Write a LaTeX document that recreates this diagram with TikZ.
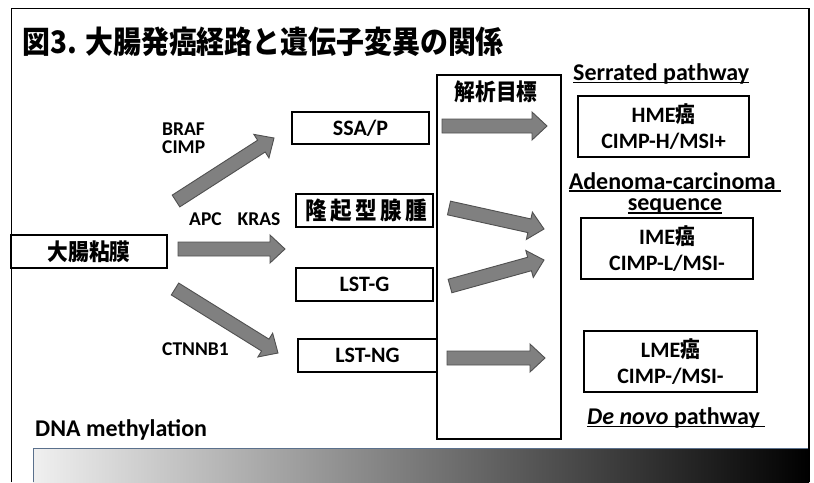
\documentclass[tikz,border=0pt]{standalone}
\usepackage{fontspec}
\setmainfont{Carlito}
\newfontfamily\jp{Noto Sans CJK JP}[FakeStretch=0.9]
\usetikzlibrary{calc}
\definecolor{arrfill}{RGB}{128,128,128}
\definecolor{arrline}{RGB}{80,80,80}
\definecolor{barline}{RGB}{90,112,140}
\newcommand\myul[2][2.6pt]{\setbox0\hbox{#2}\rlap{\rule[-#1]{\wd0}{1.2pt}}\box0}
\begin{document}
\begin{tikzpicture}[x=1pt,y=-1pt,
  box/.style={draw=black, line width=1.1pt, inner sep=0pt, align=center},
  lbl/.style={font=\fontsize{19.5}{18}\selectfont\bfseries, inner sep=0pt, align=left},
  hd/.style={font=\fontsize{24}{26}\selectfont\bfseries, inner sep=0pt},
  bt/.style={font=\fontsize{22}{26}\selectfont\bfseries},
  jt/.style={font=\fontsize{23}{26}\selectfont\jp\bfseries},
  blk/.style={draw=arrline, fill=arrfill, line width=0.9pt, line join=miter,
    to path={($(\tikztostart)!7pt!90:(\tikztotarget)$)
      -- ($(\tikztotarget)!15pt!(\tikztostart)!7pt!90:(\tikztotarget)$)
      -- ($(\tikztotarget)!15pt!(\tikztostart)!14pt!90:(\tikztotarget)$)
      -- (\tikztotarget)
      -- ($(\tikztotarget)!15pt!(\tikztostart)!14pt!-90:(\tikztotarget)$)
      -- ($(\tikztotarget)!15pt!(\tikztostart)!7pt!-90:(\tikztotarget)$)
      -- ($(\tikztostart)!7pt!-90:(\tikztotarget)$) -- cycle}}
]
\useasboundingbox (0,0) rectangle (814,482);
% gradient bar
\shade[left color=white!94!black, middle color=black!58, right color=black] (33,448) rectangle (809,482);
\draw[barline, line width=0.8pt] (33,482) -- (33,448) -- (809,448);
% outer frame
\draw[line width=1pt] (11,482) -- (11,8) -- (809,8);
\draw[line width=1.8pt] (809,8) -- (809,482);

% title
\node[anchor=west, inner sep=0pt, font=\fontsize{31}{32}\selectfont\jp\bfseries] (title) at (22,42) {図3. 大腸発癌経路と遺伝子変異の関係};

% boxes
\node[box, jt, minimum width=156pt, minimum height=33pt] (muc) at (89,251.5) {大腸粘膜};
\node[box, bt, inner sep=0pt, minimum width=137pt, minimum height=32pt] (ssa) at (360.5,128) {SSA/P};
\node[box, jt, font=\fontsize{24}{26}\selectfont\jp\bfseries, minimum width=137pt, minimum height=33pt] (aden) at (364.5,210.5) {\addfontfeature{LetterSpace=15}隆起型腺腫\hspace{-3.5pt}};
\node[box, bt, inner sep=0pt, minimum width=137pt, minimum height=33pt] (lstg) at (364.5,284.5) {LST-G};
\node[box, bt, inner sep=0pt, minimum width=139pt, minimum height=33pt] (lstng) at (367.5,355.5) {LST-NG};
\node[box, minimum width=124pt, minimum height=364pt] (target) at (499,257) {};
\node[jt, inner sep=0pt] (targett) at (496,92) {解析目標};
\node[box, bt, minimum width=171pt, minimum height=61pt] (hme) at (663.5,126.5) {HME{\jp 癌}\\CIMP-H/MSI+};
\node[box, bt, minimum width=172pt, minimum height=61pt] (ime) at (667,248.5) {IME{\jp 癌}\\CIMP-L/MSI-};
\node[box, bt, minimum width=173pt, minimum height=61pt] (lme) at (670.5,361.5) {LME{\jp 癌}\\CIMP-/MSI-};

% headings
\node[hd, anchor=base west] (ser) at (573,80) {\myul[3pt]{Serrated pathway}};
\node[hd, align=center, font=\fontsize{24}{21}\selectfont\bfseries] (adc) at (675,193) {\myul{Adenoma-carcinoma\ }\\\myul[3.5pt]{sequence}};
\node[hd, anchor=base west] (dnv) at (587,424) {\myul[3pt]{\itshape De novo\upshape\ pathway\ }};
\node[hd, anchor=west] (dna) at (35,430) {DNA methylation};

% labels
\node[lbl, anchor=west] (braf) at (162,138.5) {BRAF\\CIMP};
\node[lbl, anchor=west] (apc) at (189,219) {APC\hspace{16pt}KRAS};
\node[lbl, anchor=west] (ctn) at (162,349) {CTNNB1};

% arrow ends
\coordinate (a1s) at (176,201); \coordinate (a1e) at (274,138);
\coordinate (a2s) at (178,249); \coordinate (a2e) at (285,249);
\coordinate (a3s) at (175,289); \coordinate (a3e) at (278,353);
\coordinate (a4s) at (442,126); \coordinate (a4e) at (547,126);
\coordinate (a5s) at (449,208); \coordinate (a5e) at (544,229);
\coordinate (a6s) at (450,286); \coordinate (a6e) at (544,260);
\coordinate (a7s) at (447,358); \coordinate (a7e) at (545,358);
\draw[blk] (a1s) to (a1e);
\draw[blk] (a2s) to (a2e);
\draw[blk] (a3s) to (a3e);
\draw[blk] (a4s) to (a4e);
\draw[blk] (a5s) to (a5e);
\draw[blk] (a6s) to (a6e);
\draw[blk] (a7s) to (a7e);
\end{tikzpicture}
\end{document}
